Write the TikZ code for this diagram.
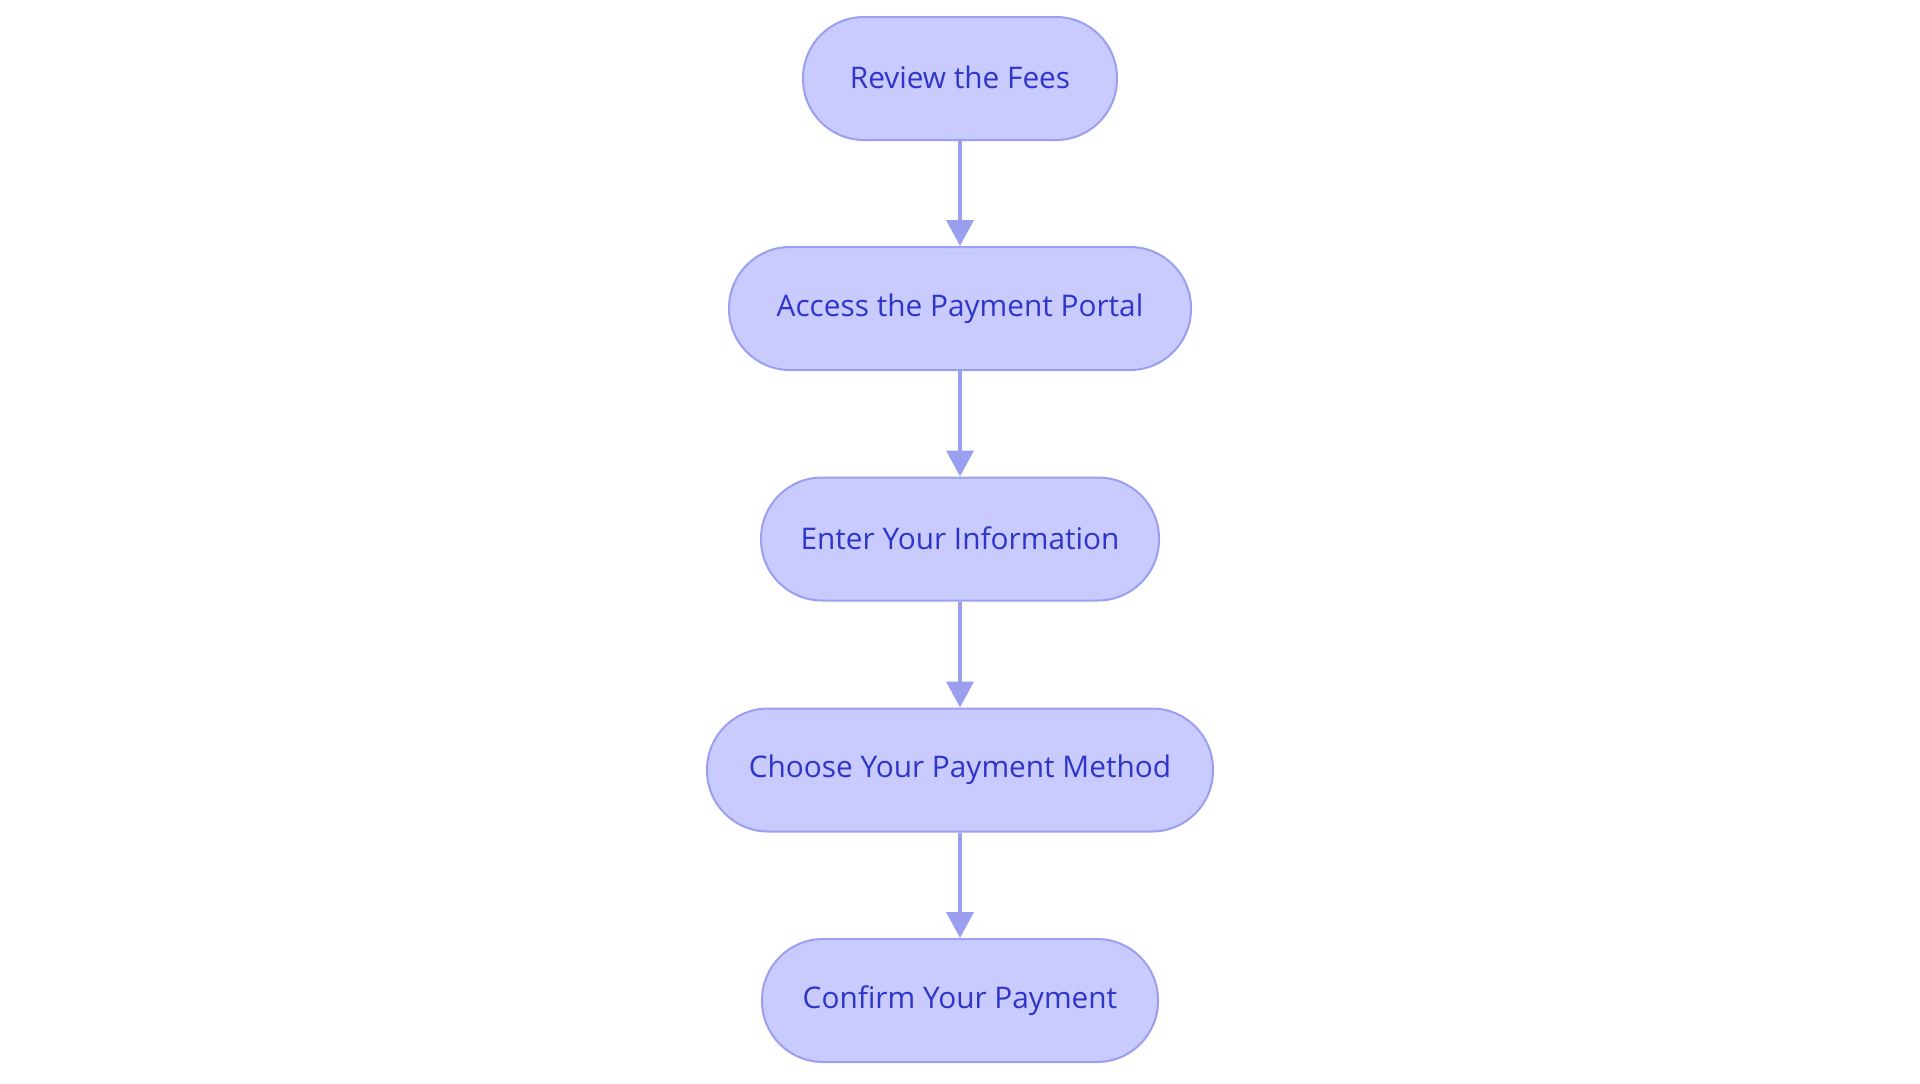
\documentclass[tikz,border=0pt]{standalone}
\usepackage{fontspec}
\setmainfont{Open Sans}
\usetikzlibrary{arrows.meta}
\definecolor{nodefill}{HTML}{C9CBFF}
\definecolor{nodedraw}{HTML}{9A9FF0}
\definecolor{nodetext}{HTML}{2E35C8}
\tikzset{
  stepbox/.style={draw=nodedraw, line width=1pt, fill=nodefill, rounded corners=30.5pt,
    minimum height=61.5pt, inner sep=0pt, text=nodetext, font=\fontsize{14.9pt}{17pt}\selectfont},
  flow/.style={draw=nodedraw, line width=2pt, -{Triangle[length=13pt,width=13.5pt]}, shorten >=0pt}
}
\begin{document}
\begin{tikzpicture}[x=0.5pt,y=-0.5pt]
\useasboundingbox (0,0) rectangle (1920,1083);
\node[stepbox, minimum width=157pt] (n1) at (960,78.5) {\raisebox{1pt}{Review the Fees}};
\node[stepbox, minimum width=231pt] (n2) at (960,308.5) {\raisebox{1pt}{Access the Payment Portal}};
\node[stepbox, minimum width=199pt] (n3) at (960,539) {\raisebox{1pt}{Enter Your Information}};
\node[stepbox, minimum width=253pt] (n4) at (960,770) {\raisebox{1pt}{Choose Your Payment Method}};
\node[stepbox, minimum width=198pt] (n5) at (960,1000.5) {\raisebox{1pt}{Confirm Your Payment}};
\draw[flow] (n1.south) -- (n2.north);
\draw[flow] (n2.south) -- (n3.north);
\draw[flow] (n3.south) -- (n4.north);
\draw[flow] (n4.south) -- (n5.north);
\end{tikzpicture}
\end{document}
